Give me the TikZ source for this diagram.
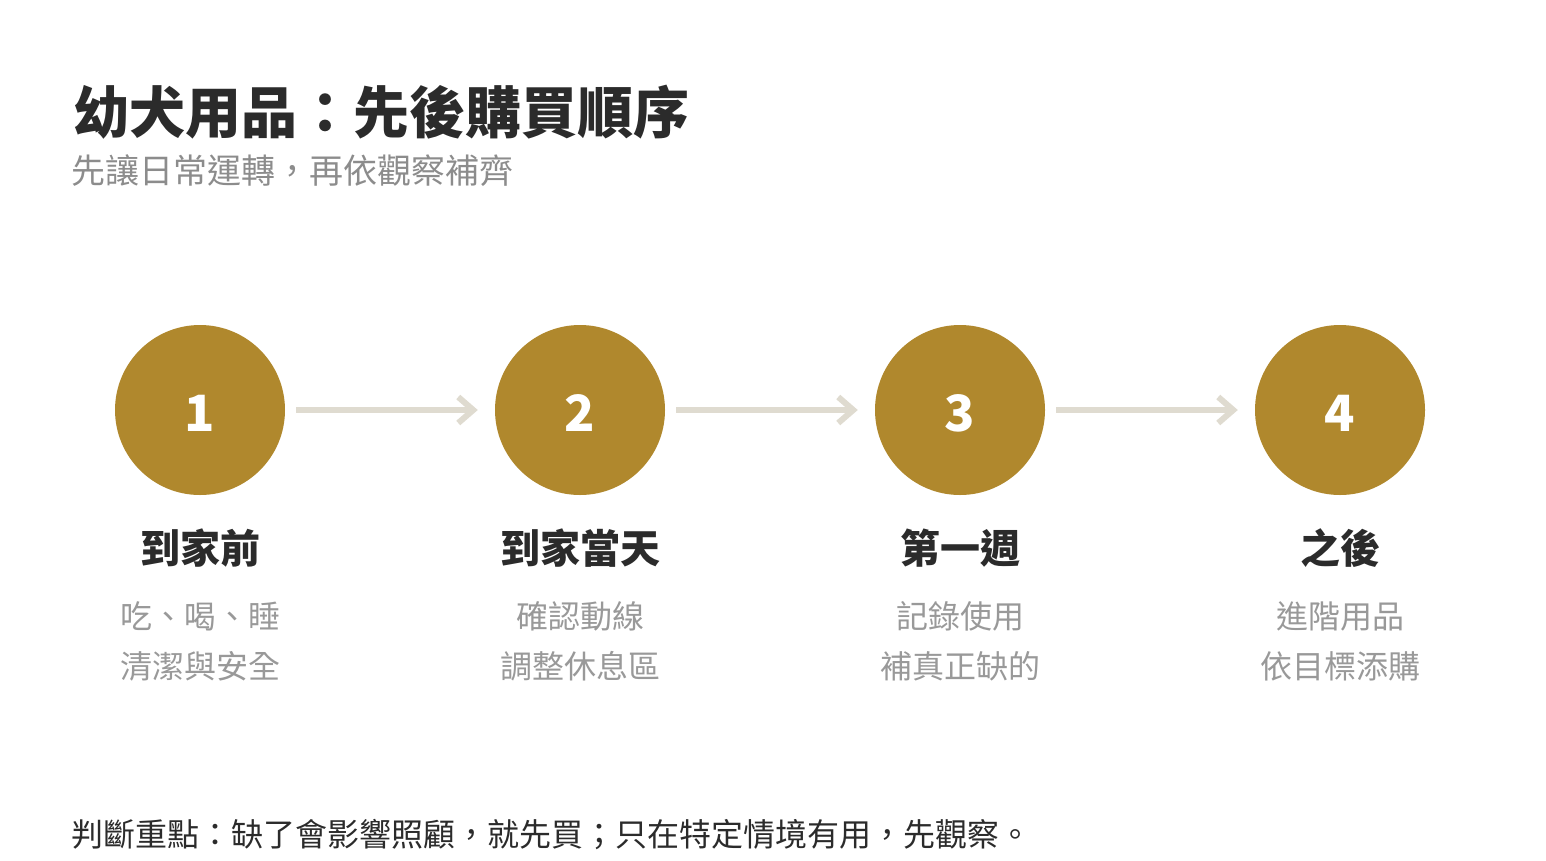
\documentclass[tikz,border=0pt]{standalone}
\usepackage{fontspec}
\setmainfont{Noto Sans CJK TC}
\usetikzlibrary{arrows.meta}
\definecolor{gold}{HTML}{B0882D}
\definecolor{ink}{HTML}{2B2B2B}
\definecolor{soft}{HTML}{8C8C8C}
\definecolor{note}{HTML}{999999}
\definecolor{rail}{HTML}{DFDBD0}

\begin{document}
\begin{tikzpicture}[x=1pt, y=-1pt,
	nodes={inner sep=0pt},
	stepdot/.style={circle, fill=gold, minimum size=170pt, text=white,
		text height=42pt, text depth=0pt,
		font=\fontsize{50}{50}\selectfont\bfseries},
	steptitle/.style={font=\fontsize{40}{40}\selectfont\bfseries, text=ink},
	stepnote/.style={font=\fontsize{32}{32}\selectfont, text=note},
	flow/.style={draw=rail, line width=6pt,
		-{Straight Barb[length=15pt,width=26pt]},
		shorten <=11pt, shorten >=17pt}]

\useasboundingbox (0,0) rectangle (1546,860);

\node[anchor=west, font=\fontsize{56}{56}\selectfont\bfseries, text=ink]
	(title) at (73,112) {幼犬用品：先後購買順序};
\node[anchor=west, font=\fontsize{34}{34}\selectfont, text=soft]
	(subtitle) at (71,171) {先讓日常運轉，再依觀察補齊};

\foreach \i/\x/\name/\linea/\lineb in {
	1/200  / 到家前   / 吃、喝、睡 / 清潔與安全,
	2/580  / 到家當天 / 確認動線   / 調整休息區,
	3/960  / 第一週   / 記錄使用   / 補真正缺的,
	4/1340 / 之後     / 進階用品   / 依目標添購
}{
\node[stepdot] (c\i) at (\x,410) {\i};
\node[steptitle] (t\i) at (\x,548) {\name};
\node[stepnote] (na\i) at (\x,616) {\linea};
\node[stepnote] (nb\i) at (\x,666) {\lineb};
}

\draw[flow] (c1) -- (c2);
\draw[flow] (c2) -- (c3);
\draw[flow] (c3) -- (c4);

\node[anchor=west, font=\fontsize{32}{32}\selectfont, text=ink]
	(footer) at (71,835) {判斷重點：缺了會影響照顧，就先買；只在特定情境有用，先觀察。};
\end{tikzpicture}
\end{document}
